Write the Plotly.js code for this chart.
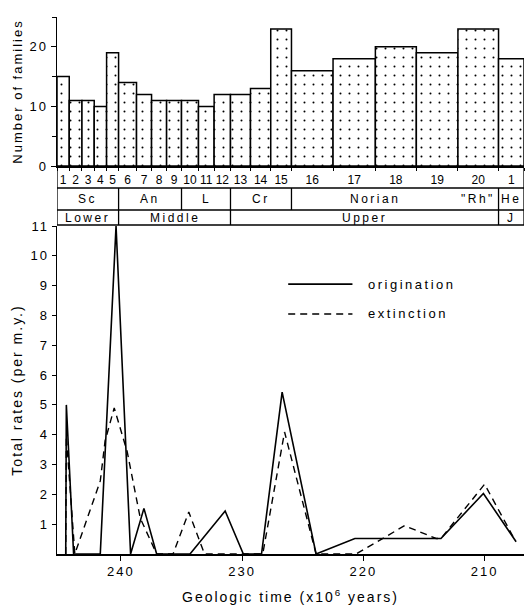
<!DOCTYPE html>
<html><head><meta charset="utf-8">
<script src="https://cdn.plot.ly/plotly-3.0.1.min.js"></script>
<style>
html,body{margin:0;padding:0;background:#fff;}
#chart{width:527px;height:606px;}
text{letter-spacing:2px;}
.x2tick text{letter-spacing:0px !important;}
.annotation-text{letter-spacing:2.5px;}
</style></head><body><div id="chart"></div>
<script>
// ---- top panel: number of families per stratigraphic unit ----
const unitLabels = ['1','2','3','4','5','6','7','8','9','10','11','12','13','14','15','16','17','18','19','20','1'];
const unitBoundaries = [245.27,244.26,243.21,242.20,241.18,240.19,238.71,237.47,236.23,235.00,233.60,232.31,230.96,229.31,227.64,225.93,222.50,219.01,215.63,212.20,208.85,206.75];
const families = [15,11,11,10,19,14,12,11,11,11,10,12,12,13,23,16,18,20,19,23,18];

// ---- bottom panel: total rates (per m.y.) ----
const origAge  = [244.55,244.5,243.9,241.7,240.4,239.2,238.1,237.05,234.3,231.4,229.9,228.4,226.7,223.9,220.7,213.6,210.1,207.4];
const origRate = [0,5.0,0,0,11.0,0,1.53,0,0,1.44,0,0,5.43,0,0.52,0.52,2.03,0.41];
const extAge  = [244.55,244.5,243.8,241.7,241.3,240.55,239.48,238.4,237.05,235.7,234.4,233.1,228.3,226.5,223.9,220.6,216.6,214.0,213.6,210.0,207.5];
const extRate = [0,3.95,0,2.45,3.8,4.9,3.43,1.2,0,0,1.41,0,0,4.09,0,0,0.95,0.52,0.52,2.34,0.47];

// ---- stratigraphic table ----
const stageNames = ['Sc','An','L','Cr','Norian','"Rh"','He'];
const stageBounds = [245.27,240.19,235.00,230.96,225.93,212.20,208.85,206.75];
const stageDividers = [240.19,235.00,230.96,225.93,208.85];
const seriesNames = ['Lower','Middle','Upper','J'];
const seriesBounds = [245.27,240.19,230.96,208.85,206.75];

const xTicks = [240,230,220,210];
const rateTicks = [1,2,3,4,5,6,7,8,9,10,11];
const famTicks = [0,10,20];

const FONT = 'Liberation Sans, Arial, sans-serif';
const XR = [245.27, 206.75];

const centers = families.map((_, i) => (unitBoundaries[i] + unitBoundaries[i+1]) / 2);
const widths = families.map((_, i) => unitBoundaries[i] - unitBoundaries[i+1]);

const traces = [
  {type:'bar', x:centers, y:families, width:widths, xaxis:'x2', yaxis:'y2',
   marker:{color:'white', line:{color:'black', width:1.5},
           pattern:{shape:'.', fgcolor:'black', bgcolor:'white', size:9, solidity:0.04, fillmode:'replace'}},
   hoverinfo:'skip', name:'families'},
  {type:'scatter', mode:'lines', x:origAge, y:origRate, name:'origination',
   line:{color:'black', width:1.6}, hoverinfo:'skip'},
  {type:'scatter', mode:'lines', x:extAge, y:extRate, name:'extinction',
   line:{color:'black', width:1.4, dash:'7px,5px'}, hoverinfo:'skip'}
];

// paper y positions of table rows
const yTop = 0.7225, yR1 = 0.6816, yR2 = 0.6406, yBot = 0.6127;
const shapes = [];
const L = (x0,x1,y0,y1) => shapes.push({type:'line', xref:'x', yref:'paper', x0, x1, y0, y1, line:{color:'black', width:1.3}});
[yR1, yR2, yBot].forEach(y => L(XR[0], XR[1], y, y));
L(XR[0], XR[0], yBot, yTop);
L(XR[1], XR[1], yBot, yTop);
stageDividers.forEach(a => L(a, a, yR2, yR1));
seriesBounds.slice(1, -1).forEach(a => L(a, a, yBot, yR2));

const annotations = [];
stageNames.forEach((n, i) => annotations.push({xref:'x', yref:'paper', x:(stageBounds[i]+stageBounds[i+1])/2, y:0.661,
  text:n, showarrow:false, font:{family:FONT, size:12, color:'black'}}));
seriesNames.forEach((n, i) => annotations.push({xref:'x', yref:'paper', x:(seriesBounds[i]+seriesBounds[i+1])/2, y:0.6266,
  text:n, showarrow:false, font:{family:FONT, size:12, color:'black'}}));

// legend drawn as lines + labels
const legendRows = [{name:traces[1].name, y:9.05, dash:'solid', w:1.6}, {name:traces[2].name, y:8.05, dash:'7px,5px', w:1.4}];
legendRows.forEach(r => {
  shapes.push({type:'line', xref:'x', yref:'y', x0:226.2, x1:220.9, y0:r.y, y1:r.y, line:{color:'black', width:r.w, dash:r.dash}});
  annotations.push({xref:'x', yref:'y', x:219.8, y:r.y, xanchor:'left', text:r.name, showarrow:false,
    font:{family:FONT, size:13, color:'black'}});
});

const layout = {
  width:527, height:606, paper_bgcolor:'white', plot_bgcolor:'white',
  margin:{l:57, r:3, t:17, b:52},
  showlegend:false,
  font:{family:FONT, size:13, color:'black'},
  xaxis:{domain:[0,1], anchor:'y', range:XR, tickmode:'array', tickvals:xTicks, ticks:'outside', ticklen:5,
         tickcolor:'black', showline:true, linecolor:'black', linewidth:1.5, showgrid:false, zeroline:false,
         tickfont:{size:13}, title:{text:'Geologic time (x10<sup>6</sup> years)', font:{size:14}, standoff:14}},
  yaxis:{domain:[0,0.6108], range:[0,11], tickmode:'array', tickvals:rateTicks, ticks:'outside', ticklen:4,
         tickcolor:'black', showline:true, linecolor:'black', linewidth:1.5, showgrid:false, zeroline:false,
         tickfont:{size:13}, title:{text:'Total rates (per m.y.)', font:{size:14}, standoff:4}},
  xaxis2:{domain:[0,1], anchor:'y2', range:XR, tickmode:'array', tickvals:centers, ticktext:unitLabels, ticks:'',
          tickangle:0, ticklabelstandoff:2, showline:true, linecolor:'black', linewidth:1.5, showgrid:false, zeroline:false,
          tickfont:{size:12},
          minor:{tickmode:'array', tickvals:unitBoundaries, ticks:'outside', ticklen:3, tickcolor:'black', tickwidth:1, showgrid:false}},
  yaxis2:{domain:[0.7225,1], anchor:'x2', range:[0,25], tickmode:'array', tickvals:famTicks, ticks:'outside', ticklen:5,
          tickcolor:'black', showline:true, linecolor:'black', linewidth:1.5, showgrid:false, zeroline:false,
          tickfont:{size:13}, minor:{dtick:5, ticks:'outside', ticklen:4, tickcolor:'black', showgrid:false},
          title:{text:'Number of families', font:{size:13}, standoff:4}},
  shapes, annotations
};

Plotly.newPlot('chart', traces, layout, {displayModeBar:false, staticPlot:true});
</script></body></html>
